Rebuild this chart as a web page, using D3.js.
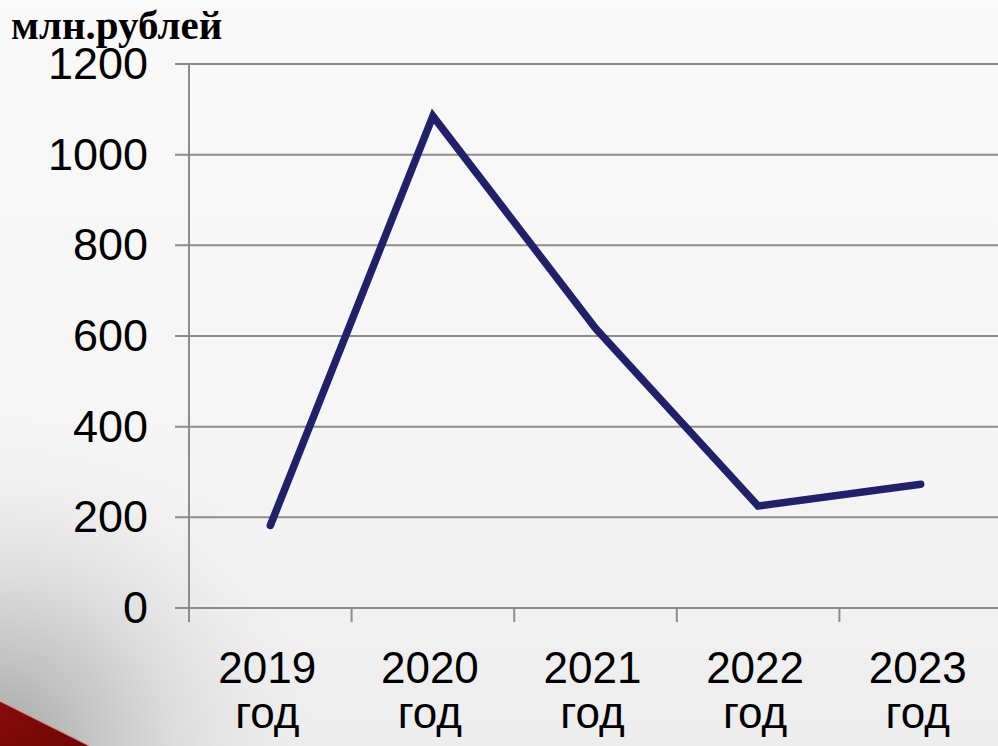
<!DOCTYPE html>
<html>
<head>
<meta charset="utf-8">
<script src="https://cdn.jsdelivr.net/npm/d3@7"></script>
<style>
  html, body { margin: 0; padding: 0; background: #f8f8f8; overflow: hidden; }
  svg { display: block; }
</style>
</head>
<body>
<svg id="chart" width="998" height="746"></svg>
<script>
// Years and amounts (млн. рублей)
const years = ["2019", "2020", "2021", "2022", "2023"];
const yearSuffix = "год";
const amounts = [182, 1085, 617, 225, 273];
const yTicks = [0, 200, 400, 600, 800, 1000, 1200];
const unitLabel = "млн.рублей";

const W = 998, H = 746;
const svg = d3.select("#chart");
const defs = svg.append("defs");

// ---- background: light gray with a darker shade and red band bottom-left
const bg = defs.append("linearGradient").attr("id", "bgGrad")
  .attr("x1", 0).attr("y1", 0).attr("x2", 0).attr("y2", 1);
bg.append("stop").attr("offset", "0").attr("stop-color", "#f9f9f9");
bg.append("stop").attr("offset", "0.6").attr("stop-color", "#f5f5f5");
bg.append("stop").attr("offset", "1").attr("stop-color", "#ededed");

const shade = defs.append("radialGradient").attr("id", "shadeGrad")
  .attr("gradientUnits", "userSpaceOnUse")
  .attr("cx", 0).attr("cy", 746).attr("r", 330);
shade.append("stop").attr("offset", "0").attr("stop-color", "#a0a0a0").attr("stop-opacity", 0.95);
shade.append("stop").attr("offset", "0.35").attr("stop-color", "#c0c0c0").attr("stop-opacity", 0.75);
shade.append("stop").attr("offset", "1").attr("stop-color", "#eeeeee").attr("stop-opacity", 0);

svg.append("rect").attr("width", W).attr("height", H).attr("fill", "url(#bgGrad)");
svg.append("rect").attr("width", W).attr("height", H).attr("fill", "url(#shadeGrad)");

const redGrad = defs.append("linearGradient").attr("id", "redGrad")
  .attr("x1", 0).attr("y1", 0).attr("x2", 1).attr("y2", 1);
redGrad.append("stop").attr("offset", "0").attr("stop-color", "#8a0b0b");
redGrad.append("stop").attr("offset", "1").attr("stop-color", "#6e0606");

svg.append("path")
  .attr("d", "M0,701 C30,716 60,731 90,746 L0,746 Z")
  .attr("fill", "url(#redGrad)");
svg.append("path")
  .attr("d", "M0,701 C30,716 60,731 90,746")
  .attr("fill", "none").attr("stroke", "#d8a0a0").attr("stroke-width", 1.5).attr("opacity", 0.8);

// ---- scales
const plotLeft = 189, bandW = 162.6;
const x = d3.scaleBand().domain(years)
  .range([plotLeft, plotLeft + bandW * years.length]).paddingInner(0).paddingOuter(0);
const y = d3.scaleLinear().domain([0, 1200]).range([608, 64]);

const gridColor = "#8c8c8c";

// horizontal gridlines with small left ticks
svg.append("g").selectAll("line").data(yTicks).join("line")
  .attr("x1", plotLeft - 14).attr("x2", W)
  .attr("y1", d => y(d)).attr("y2", d => y(d))
  .attr("stroke", gridColor).attr("stroke-width", 2);

// vertical axis
svg.append("line")
  .attr("x1", plotLeft).attr("x2", plotLeft)
  .attr("y1", y(1200)).attr("y2", y(0) + 14)
  .attr("stroke", gridColor).attr("stroke-width", 2);

// category separators below the baseline
svg.append("g").selectAll("line").data(years.slice(1)).join("line")
  .attr("x1", d => x(d)).attr("x2", d => x(d))
  .attr("y1", y(0)).attr("y2", y(0) + 14)
  .attr("stroke", gridColor).attr("stroke-width", 2);

// y tick labels
svg.append("g").selectAll("text").data(yTicks).join("text")
  .attr("x", 148).attr("y", d => y(d) + 15)
  .attr("text-anchor", "end")
  .attr("font-family", "'Liberation Sans', Arial, sans-serif")
  .attr("font-size", 45)
  .attr("fill", "#000")
  .text(d => d);

// x category labels (two lines)
const xl = svg.append("g").selectAll("text").data(years).join("text")
  .attr("text-anchor", "middle")
  .attr("font-family", "'Liberation Sans', Arial, sans-serif")
  .attr("font-size", 44)
  .attr("fill", "#000");
xl.append("tspan").attr("x", d => x(d) + x.bandwidth() / 2 - 3).attr("y", 683).text(d => d);
xl.append("tspan").attr("x", d => x(d) + x.bandwidth() / 2 - 3).attr("y", 728).text(yearSuffix);

// data line
const line = d3.line()
  .x((d, i) => x(years[i]) + x.bandwidth() / 2)
  .y(d => y(d));
svg.append("path")
  .datum(amounts)
  .attr("d", line)
  .attr("fill", "none")
  .attr("stroke", "#21216a")
  .attr("stroke-width", 7.5)
  .attr("stroke-linecap", "round")
  .attr("stroke-linejoin", "miter");

// unit label
svg.append("text")
  .attr("x", 11).attr("y", 39)
  .attr("font-family", "'Liberation Serif', 'Times New Roman', serif")
  .attr("font-weight", "bold")
  .attr("font-size", 41)
  .attr("fill", "#000")
  .text(unitLabel);
</script>
</body>
</html>
